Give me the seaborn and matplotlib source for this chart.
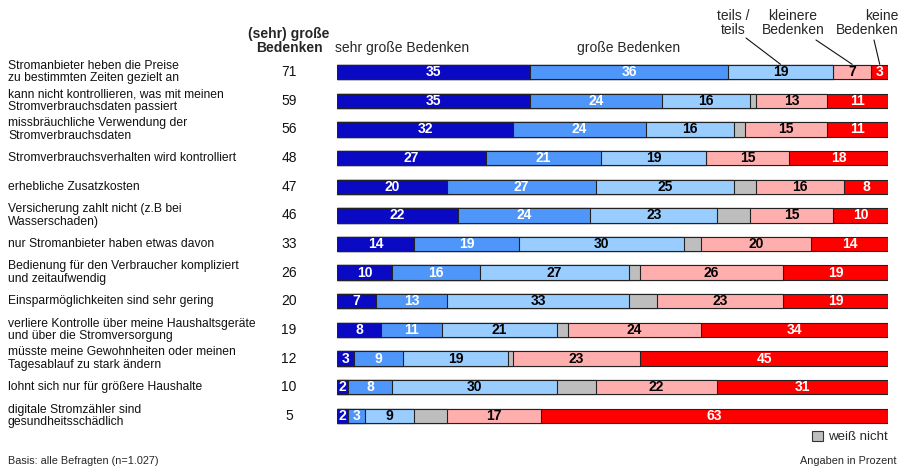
import pandas as pd
import matplotlib
matplotlib.use("Agg")
import matplotlib.pyplot as plt
import matplotlib.transforms as mtransforms
from matplotlib.patches import Patch
import seaborn as sns

# --- data (Angaben in Prozent) ---
statements = [
    "Stromanbieter heben die Preise\nzu bestimmten Zeiten gezielt an",
    "kann nicht kontrollieren, was mit meinen\nStromverbrauchsdaten passiert",
    "missbräuchliche Verwendung der\nStromverbrauchsdaten",
    "Stromverbrauchsverhalten wird kontrolliert",
    "erhebliche Zusatzkosten",
    "Versicherung zahlt nicht (z.B bei\nWasserschaden)",
    "nur Stromanbieter haben etwas davon",
    "Bedienung für den Verbraucher kompliziert\nund zeitaufwendig",
    "Einsparmöglichkeiten sind sehr gering",
    "verliere Kontrolle über meine Haushaltsgeräte\nund über die Stromversorgung",
    "müsste meine Gewohnheiten oder meinen\nTagesablauf zu stark ändern",
    "lohnt sich nur für größere Haushalte",
    "digitale Stromzähler sind\ngesundheitsschädlich",
]
sehr_grosse_total = [71, 59, 56, 48, 47, 46, 33, 26, 20, 19, 12, 10, 5]
sehr_gross = [35, 35, 32, 27, 20, 22, 14, 10, 7, 8, 3, 2, 2]
gross = [36, 24, 24, 21, 27, 24, 19, 16, 13, 11, 9, 8, 3]
teils = [19, 16, 16, 19, 25, 23, 30, 27, 33, 21, 19, 30, 9]
weiss_nicht = [0, 1, 2, 0, 4, 6, 3, 2, 5, 2, 1, 7, 6]
kleinere = [7, 13, 15, 15, 16, 15, 20, 26, 23, 24, 23, 22, 17]
keine = [3, 11, 11, 18, 8, 10, 14, 19, 19, 34, 45, 31, 63]

categories = ["sehr große Bedenken", "große Bedenken", "teils / teils",
              "weiß nicht", "kleinere Bedenken", "keine Bedenken"]
series = [sehr_gross, gross, teils, weiss_nicht, kleinere, keine]
colors = ["#0A0AC4", "#4F96FA", "#99CCFF", "#BEBEBE", "#FFAEAE", "#FF0000"]
label_colors = ["white", "white", "black", None, "black", "white"]

# long table with cumulative positions
rows = []
for cat, vals in zip(categories, series):
    for st, v in zip(statements, vals):
        rows.append({"statement": st, "category": cat, "value": v})
df = pd.DataFrame(rows)
df["category"] = pd.Categorical(df["category"], categories, ordered=True)
df = df.sort_values(["statement", "category"])
df["cum"] = df.groupby("statement")["value"].cumsum()

sns.set_theme(style="white")
plt.rcParams["font.family"] = ["Liberation Sans", "DejaVu Sans"]

fig = plt.figure(figsize=(9.04, 4.70), dpi=100)
ax = fig.add_axes([337 / 904, 0.0845, 551 / 904, 0.7927])

# stacked bars: draw cumulative totals from widest to narrowest
for cat, col in reversed(list(zip(categories, colors))):
    sub = df[df["category"] == cat]
    sns.barplot(data=sub, y="statement", x="cum", order=statements, orient="h",
                color=col, width=0.5, edgecolor="#222222", linewidth=0.8,
                errorbar=None, saturation=1, ax=ax)

ax.set_xlim(0, 100)
ax.set_ylim(12.5, -0.5)
ax.axis("off")

# segment labels
narrow = ["Liberation Sans Narrow", "Liberation Sans", "DejaVu Sans"]
for cat, lc in zip(categories, label_colors):
    if lc is None:
        continue
    sub = df[df["category"] == cat]
    for _, r in sub.iterrows():
        if r["value"] <= 0:
            continue
        i = statements.index(r["statement"])
        ax.text(r["cum"] - r["value"] / 2, i, str(r["value"]), ha="center",
                va="center", color=lc, fontsize=10, fontweight="bold",
                family=narrow)

# left labels and total column
trans = mtransforms.blended_transform_factory(fig.transFigure, ax.transData)
for i, (st, tot) in enumerate(zip(statements, sehr_grosse_total)):
    ax.text(8 / 904, i, st, transform=trans, ha="left", va="center",
            fontsize=8.7, linespacing=1.05, color="#111111")
    ax.text(289 / 904, i, str(tot), transform=trans, ha="center", va="center",
            fontsize=10, color="#111111")

# header
def fy(px):
    return 1 - px / 470

fig.text(289 / 904, fy(41), "(sehr) große\nBedenken", ha="center", va="center",
         fontsize=10, fontweight="bold", linespacing=0.95, multialignment="center")
fig.text(335 / 904, fy(48), "sehr große Bedenken", ha="left", va="center", fontsize=10)
fig.text(629 / 904, fy(48), "große Bedenken", ha="center", va="center", fontsize=10)
fig.text(733 / 904, fy(23), "teils /\nteils", ha="center", va="center",
         fontsize=10, linespacing=1.0, multialignment="center")
fig.text(793 / 904, fy(23), "kleinere\nBedenken", ha="center", va="center",
         fontsize=10, linespacing=1.0, multialignment="center")
fig.text(899 / 904, fy(23), "keine\nBedenken", ha="right", va="center",
         fontsize=10, linespacing=1.0, multialignment="right")

# leader lines to the first bar
first = df[df["statement"] == statements[0]].set_index("category")
for cat, start in [("teils / teils", (746, 38)),
                   ("kleinere Bedenken", (816, 40)),
                   ("keine Bedenken", (874, 40))]:
    r = first.loc[cat]
    ax.annotate("", xy=(r["cum"] - r["value"] / 2, -0.27), xycoords="data",
                xytext=(start[0] / 904, fy(start[1])), textcoords="figure fraction",
                arrowprops=dict(arrowstyle="-", color="#111111", lw=0.8,
                                shrinkA=0, shrinkB=0))

# legend for "weiß nicht"
fig.legend(handles=[Patch(facecolor=colors[3], edgecolor="#333333", lw=0.8)],
           labels=["weiß nicht"], loc="center right",
           bbox_to_anchor=(888 / 904, fy(437)), frameon=False, fontsize=9.5,
           handlelength=0.85, handleheight=0.85, handletextpad=0.4,
           borderpad=0, borderaxespad=0)

fig.text(8 / 904, fy(461), "Basis: alle Befragten (n=1.027)", ha="left",
         va="center", fontsize=7.8)
fig.text(897 / 904, fy(461), "Angaben in Prozent", ha="right", va="center",
         fontsize=7.8)

fig.savefig("out.png", dpi=100)
